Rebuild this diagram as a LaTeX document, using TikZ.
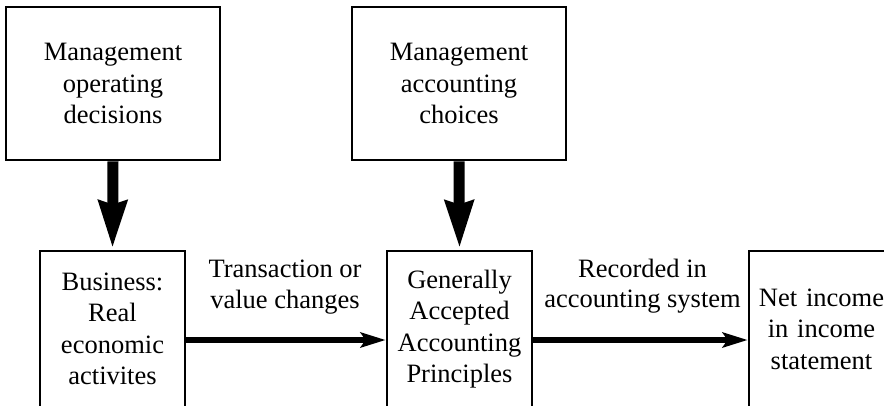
\documentclass[tikz,border=0pt]{standalone}
\usepackage{fontspec}
\setmainfont{Liberation Serif}
\usetikzlibrary{arrows.meta}
\begin{document}
\begin{tikzpicture}[x=1pt,y=-1pt,
  box/.style={draw=black, line width=2.7pt, fill=white, align=center,
    inner sep=0pt, font=\fontsize{26.5}{31.5}\selectfont},
  lbl/.style={align=center, inner sep=0pt, font=\fontsize{26.5}{30.5}\selectfont},
  bigarrow/.style={line width=11pt,
    -{Stealth[length=47pt, width=27pt, inset=3pt]}},
  flowarrow/.style={line width=6pt,
    -{Stealth[length=25pt, width=15pt, inset=5pt]}}]
  \useasboundingbox (0,0) rectangle (884,405);
  \clip (0,0) rectangle (884,405);

  % upper decision boxes
  \node[box, minimum width=214pt, minimum height=153pt] (ops) at (113,83.5)
    {Management\\operating\\decisions};
  \node[box, minimum width=214pt, minimum height=153pt] (acct) at (459,83.5)
    {Management\\accounting\\choices};

  % lower process boxes (run past the lower edge)
  \node[box, minimum width=145pt, minimum height=156pt] (bus) at (112.5,329)
    {Business:\\Real\\economic\\activites};
  \node[box, minimum width=145pt, minimum height=156pt] (gaap) at (459.5,329)
    {Generally\\Accepted\\Accounting\\Principles};
  \node[box, minimum width=145pt, minimum height=156pt, text width=130pt] (net) at (821.5,329)
    {Net income\\in income\\statement};

  % flow labels
  \node[lbl] (trans) at (285,287) {Transaction or\\value changes};
  \node[lbl] (rec) at (642.5,286) {Recorded in\\accounting system};

  % connectors
  \draw[bigarrow] (ops.south) -- ([yshift=1pt]bus.north);
  \draw[bigarrow] (acct.south) -- ([yshift=1pt]gaap.north);
  \draw[flowarrow] (bus.east |- 0,340) -- (gaap.west |- 0,340);
  \draw[flowarrow] (gaap.east |- 0,340) -- (net.west |- 0,340);
\end{tikzpicture}
\end{document}
